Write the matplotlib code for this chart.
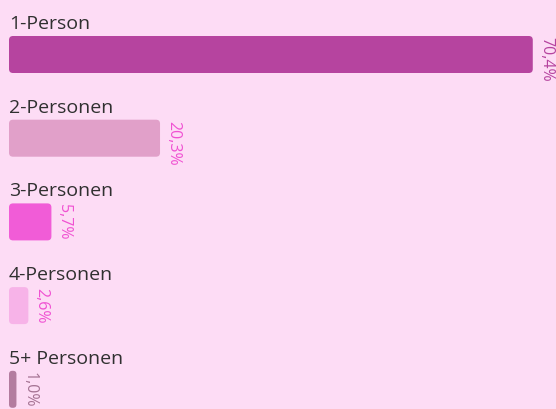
import matplotlib
matplotlib.use("Agg")
import matplotlib.pyplot as plt
from matplotlib.patches import FancyBboxPatch

categories = ["1-Person", "2-Personen", "3-Personen", "4-Personen", "5+ Personen"]
values = [70.4, 20.3, 5.7, 2.6, 1.0]
value_labels = ["70,4%", "20,3%", "5,7%", "2,6%", "1,0%"]
bar_colors = ["#b6449f", "#e1a0c9", "#f15cd7", "#f7b3e8", "#b37c9f"]
label_colors = ["#b6449f", "#f051d2", "#f051d2", "#f051d2", "#a57393"]

BG = "#fddcf5"
W, H = 556, 410
px_x = 7.44   # px per percent
px_y = 83.7   # px per row
x0_px = 9
y0_px = 55.5

fig = plt.figure(figsize=(W / 100, H / 100), dpi=100, facecolor=BG)
ax = fig.add_axes([0, 0, 1, 1])
ax.set_facecolor(BG)
ax.set_xlim(-x0_px / px_x, (W - x0_px) / px_x)
ax.set_ylim((H - y0_px) / px_y, -y0_px / px_y)
ax.axis("off")

pos = list(range(len(categories)))
bh = 37 / px_y
bars = ax.barh(pos, values, height=bh, color=bar_colors)
aspect = (1 / px_y) / (1 / px_x)
for b, c in zip(bars, bar_colors):
    x, y, w, h = b.get_x(), b.get_y(), b.get_width(), b.get_height()
    b.remove()
    r = min(4 / px_x, w / 2 * 0.9)
    p = FancyBboxPatch((x, y), w, h, boxstyle=f"round,pad=0,rounding_size={r}",
                       mutation_aspect=aspect, facecolor=c, edgecolor="none")
    ax.add_patch(p)

for i, (cat, v, lab, lc) in enumerate(zip(categories, values, value_labels, label_colors)):
    top = i - bh / 2
    ax.text(0, top - 8 / px_y, cat, ha="left", va="baseline", fontsize=14,
            family="Open Sans", color="#303030")
    ax.text(v + 5 / px_x, top, lab, rotation=-90, ha="left", va="top",
            fontsize=11.5, family="Open Sans", color=lc)

fig.savefig("out.png", dpi=100, facecolor=BG)
